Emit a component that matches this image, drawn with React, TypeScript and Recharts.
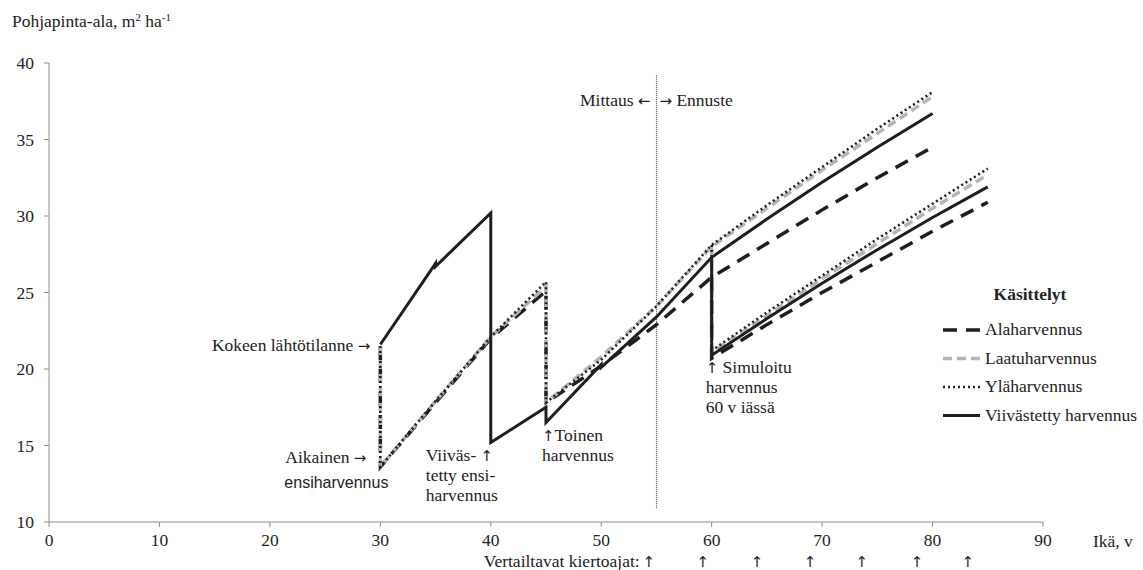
import React from "react";
import {
  LineChart,
  Line,
  XAxis,
  YAxis,
  ReferenceLine,
  ReferenceDot,
  Legend,
} from "recharts";

// ages (x) for the different paths
const earlyAges = [30, 30, 35, 40, 45, 45, 50, 55, 60, 65, 70, 75, 80];
const delayedAges = [30, 35, 35, 40, 40, 45, 45, 50, 50, 55, 60, 65, 70, 75, 80];
const branchAges = [60, 60, 65, 70, 75, 80, 85];

// basal area, m2/ha
const alaMain = [21.5, 13.6, 17.8, 22.0, 25.1, 17.8, 20.2, 22.9, 26.0, 28.2, 30.4, 32.5, 34.5];
const alaBranch = [26.0, 20.7, 22.9, 25.0, 27.0, 29.0, 30.9];
const laatuMain = [21.5, 13.6, 17.9, 22.1, 25.4, 17.8, 20.8, 24.1, 28.0, 30.5, 33.0, 35.4, 37.8];
const laatuBranch = [28.0, 21.1, 23.5, 25.9, 28.2, 30.5, 32.7];
const ylaMain = [21.5, 13.6, 17.9, 22.1, 25.7, 17.8, 20.6, 24.1, 28.1, 30.7, 33.2, 35.7, 38.1];
const ylaBranch = [28.1, 21.2, 23.7, 26.1, 28.5, 30.8, 33.1];
const viivMain = [21.6, 26.9, 26.7, 30.2, 15.2, 17.5, 16.5, 20.3, 20.1, 23.4, 27.3, 29.8, 32.2, 34.5, 36.7];
const viivBranch = [27.3, 20.9, 23.3, 25.6, 27.8, 29.9, 31.9];

const xTicks = [0, 10, 20, 30, 40, 50, 60, 70, 80, 90];
const yTicks = [10, 15, 20, 25, 30, 35, 40];
const rotationAges = [54.3, 59.2, 64.1, 68.9, 73.6, 78.6, 83.2];
const boundaryAge = 55;

const SERIF = "'Liberation Serif', 'Times New Roman', serif";
const SANS = "'Liberation Sans', Arial, sans-serif";
const ARROW = "'DejaVu Sans', sans-serif";
const INK = "#222";
const FS = 17.5;

const toPoints = (ages: number[], vals: number[]) =>
  ages.map((age, i) => ({ age, v: vals[i] }));

// drawing order: Ala at the bottom, solid on top
const series = [
  { name: "Alaharvennus", stroke: "#1e1e1e", width: 3.5, dash: "14 9", main: toPoints(earlyAges, alaMain), branch: toPoints(branchAges, alaBranch) },
  { name: "Laatuharvennus", stroke: "#b4b4b4", width: 3.5, dash: "9 5", main: toPoints(earlyAges, laatuMain), branch: toPoints(branchAges, laatuBranch) },
  { name: "Yläharvennus", stroke: "#1e1e1e", width: 2.6, dash: "2 3", main: toPoints(earlyAges, ylaMain), branch: toPoints(branchAges, ylaBranch) },
  { name: "Viivästetty harvennus", stroke: "#1e1e1e", width: 3, dash: undefined, main: toPoints(delayedAges, viivMain), branch: toPoints(branchAges, viivBranch) },
];

type Note = {
  x: number;
  y: number;
  lines: string[];
  dx: number;
  dy: number;
  anchor?: "start" | "middle" | "end";
  font?: string;
  size?: number;
};

const notes: Note[] = [
  { x: 30, y: 21.6, lines: ["Kokeen lähtötilanne →"], dx: -10, dy: 6, anchor: "end" },
  { x: 30, y: 13.6, lines: ["Aikainen →"], dx: -95, dy: -4 },
  { x: 30, y: 13.6, lines: ["ensiharvennus"], dx: -96, dy: 21, font: SANS, size: 16 },
  { x: 40, y: 15.2, lines: ["Viiväs- ↑", "tetty ensi-", "harvennus"], dx: -65, dy: 19 },
  { x: 45, y: 16.5, lines: ["↑Toinen", "harvennus"], dx: -4, dy: 18 },
  { x: 60, y: 20.9, lines: ["↑ Simuloitu", "harvennus", "60 v iässä"], dx: -6, dy: 18 },
  { x: boundaryAge, y: 37.6, lines: ["Mittaus ←"], dx: -6, dy: 6, anchor: "end" },
  { x: boundaryAge, y: 37.6, lines: ["→ Ennuste"], dx: 3, dy: 6 },
  { x: 90, y: 10, lines: ["Ikä, v"], dx: 50, dy: 25 },
  { x: rotationAges[0], y: 10, lines: ["Vertailtavat kiertoajat:"], dx: -9, dy: 45, anchor: "end", size: 17.5 },
  ...rotationAges.map((a) => ({ x: a, y: 10, lines: ["↑"], dx: 0, dy: 45, anchor: "middle" as const })),
];

const center = (p: any) => {
  const vb = p.viewBox || {};
  return { cx: (vb.x ?? 0) + (vb.width ?? 0) / 2, cy: (vb.y ?? 0) + (vb.height ?? 0) / 2 };
};

// arrows drawn with a font that surely has them
const withArrows = (line: string) =>
  line.split(/([←↑→])/).map((part, j) =>
    /[←↑→]/.test(part) ? (
      <tspan key={j} fontFamily={ARROW} fontSize={15}>
        {part}
      </tspan>
    ) : (
      part
    )
  );

const renderNote = (note: Note) => (p: any) => {
  const { cx, cy } = center(p);
  const x = cx + note.dx;
  return (
    <text
      x={x}
      y={cy + note.dy}
      textAnchor={note.anchor || "start"}
      fontFamily={note.font || SERIF}
      fontSize={note.size || FS}
      fill={INK}
    >
      {note.lines.map((l, i) => (
        <tspan key={i} x={x} dy={i === 0 ? 0 : 20}>
          {withArrows(l)}
        </tspan>
      ))}
    </text>
  );
};

const renderYTitle = (p: any) => {
  const { cx, cy } = center(p);
  return (
    <text x={cx - 37} y={cy - 36} fontFamily={SERIF} fontSize={FS} fill={INK}>
      Pohjapinta-ala, m
      <tspan fontSize={11} dy={-6}>2</tspan>
      <tspan dy={6}> ha</tspan>
      <tspan fontSize={11} dy={-6}>-1</tspan>
    </text>
  );
};

const legendOrder = ["Alaharvennus", "Laatuharvennus", "Yläharvennus", "Viivästetty harvennus"];

const renderLegend = () => (
  <svg width={210} height={150}>
    <text x={95} y={25} textAnchor="middle" fontFamily={SERIF} fontWeight="bold" fontSize={FS} fill={INK}>
      Käsittelyt
    </text>
    {legendOrder.map((name, i) => {
      const s = series.find((d) => d.name === name)!;
      const y = 60 + i * 28.5;
      return (
        <g key={name}>
          <line
            x1={8}
            x2={45}
            y1={y - 5}
            y2={y - 5}
            stroke={s.stroke}
            strokeWidth={s.width}
            strokeDasharray={s.dash}
          />
          <text x={50} y={y} fontFamily={SERIF} fontSize={FS} fill={INK}>
            {name}
          </text>
        </g>
      );
    })}
  </svg>
);

const App: React.FC = () => {
  return (
    <div style={{ position: "absolute", left: 0, top: 0, width: 1143, height: 570, background: "#fff" }}>
      <LineChart width={1143} height={570} margin={{ top: 63, right: 100, bottom: 18, left: 9 }}>
        <XAxis
          type="number"
          dataKey="age"
          domain={[0, 90]}
          ticks={xTicks}
          interval={0}
          height={30}
          tickSize={5}
          tickMargin={7}
          stroke="#8c8c8c"
          tick={{ fill: INK, fontFamily: SERIF, fontSize: FS }}
          allowDuplicatedCategory
        />
        <YAxis
          type="number"
          domain={[10, 40]}
          ticks={yTicks}
          interval={0}
          width={40}
          tickSize={5}
          tickMargin={10}
          stroke="#8c8c8c"
          tick={{ fill: INK, fontFamily: SERIF, fontSize: FS }}
        />
        <ReferenceLine
          segment={[
            { x: boundaryAge, y: 10.9 },
            { x: boundaryAge, y: 39.2 },
          ]}
          stroke="#444"
          strokeWidth={1}
          strokeDasharray="1 1"
        />
        {series.map((s) => (
          <Line
            key={s.name + "-main"}
            data={s.main}
            dataKey="v"
            name={s.name}
            type="linear"
            stroke={s.stroke}
            strokeWidth={s.width}
            strokeDasharray={s.dash}
            dot={false}
            activeDot={false}
            isAnimationActive={false}
          />
        ))}
        {series.map((s) => (
          <Line
            key={s.name + "-branch"}
            data={s.branch}
            dataKey="v"
            name={s.name + " (60 v)"}
            type="linear"
            stroke={s.stroke}
            strokeWidth={s.width}
            strokeDasharray={s.dash}
            dot={false}
            activeDot={false}
            legendType="none"
            isAnimationActive={false}
          />
        ))}
        {notes.map((n, i) => (
          <ReferenceDot key={"note" + i} x={n.x} y={n.y} r={0} ifOverflow="visible" label={renderNote(n)} />
        ))}
        <ReferenceDot x={0} y={40} r={0} ifOverflow="visible" label={renderYTitle} />
        <Legend
          layout="vertical"
          align="center"
          verticalAlign="middle"
          content={renderLegend}
          wrapperStyle={{ left: 935, top: 275, width: 210, height: 150 }}
        />
      </LineChart>
    </div>
  );
};

export default App;
